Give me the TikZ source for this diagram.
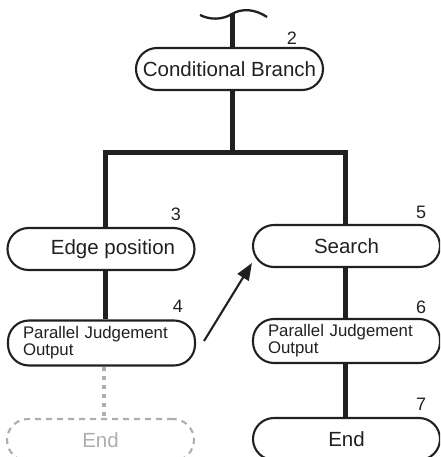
\documentclass[tikz,border=0pt]{standalone}
\usepackage{fontspec}
\setmainfont{Liberation Sans}
\usetikzlibrary{arrows.meta}
\definecolor{ink}{HTML}{231F20}
\definecolor{ghost}{HTML}{AEAEAE}
\tikzset{
  box/.style={draw=ink, line width=2.1pt, rectangle, rounded corners=21pt,
    minimum width=187pt, minimum height=42pt, inner sep=0pt,
    font=\fontsize{20.5}{24}\selectfont, text=ink},
  pjbox/.style={box, minimum height=45pt, text width=157pt, inner xsep=15pt,
    align=left, font=\fontsize{16.8}{17}\selectfont},
  ghostbox/.style={box, draw=ghost, text=ghost, dash pattern=on 6pt off 5pt},
  num/.style={font=\fontsize{18}{20}\selectfont, text=ink, inner sep=0pt},
  trunk/.style={draw=ink, line width=5pt, line join=miter},
  ghostline/.style={draw=ghost, line width=4.5pt, dash pattern=on 4.5pt off 4.5pt},
  pointer/.style={draw=ink, line width=2.1pt, -{Triangle[length=17pt,width=13pt]}},
}
\begin{document}
\begin{tikzpicture}[x=1pt,y=-1pt]
\useasboundingbox (0,0) rectangle (440,457);
\clip (0,0) rectangle (440,457);
% nodes
\node[box] (cb) at (229.5,69) {Conditional Branch};
\node[box] (edge) at (101,249) {\hspace*{24pt}Edge position};
\node[pjbox] (pj1) at (101.5,343) {Parallel Judgement\\Output};
\node[ghostbox] (end1) at (100.5,440) {End};
\node[box] (search) at (346.5,246) {Search};
\node[pjbox, minimum height=44pt] (pj2) at (346.5,341) {Parallel Judgement\\Output};
\node[box] (end2) at (346.5,439) {End};
% numbers
\node[num] (n2) at (292,38) {2};
\node[num] (n3) at (176,214) {3};
\node[num] (n4) at (178,306) {4};
\node[num] (n5) at (421,212) {5};
\node[num] (n6) at (421,307) {6};
\node[num] (n7) at (421,404) {7};
% coordinates
\coordinate (wtop) at (232,14);
\coordinate (barM) at (232,153);
\coordinate (barL) at (105,153);
\coordinate (barR) at (345,153);
% wave
\draw[ink, line width=2.3pt] (200,15) .. controls (210,20) and (222,20) .. (wtop)
  .. controls (242,8) and (255,9) .. (267,17);
% trunk lines
\draw[trunk] (wtop) -- (wtop |- cb.north);
\draw[trunk] (barM |- cb.south) -- (barM);
\draw[trunk] (barL |- edge.north) -- (barL) -- (barR) -- (barR |- search.north);
\draw[trunk] (barL |- edge.south) -- (barL |- pj1.north);
\draw[ghostline] ([xshift=-1pt]barL |- pj1.south) -- ([xshift=-1pt]barL |- end1.north);
\draw[trunk] (barR |- search.south) -- (barR |- pj2.north);
\draw[trunk] (barR |- pj2.south) -- (barR |- end2.north);
% arrow
\draw[pointer] ([xshift=8pt,yshift=2pt]pj1.east) -- ([yshift=-17pt]search.west);
\end{tikzpicture}
\end{document}
